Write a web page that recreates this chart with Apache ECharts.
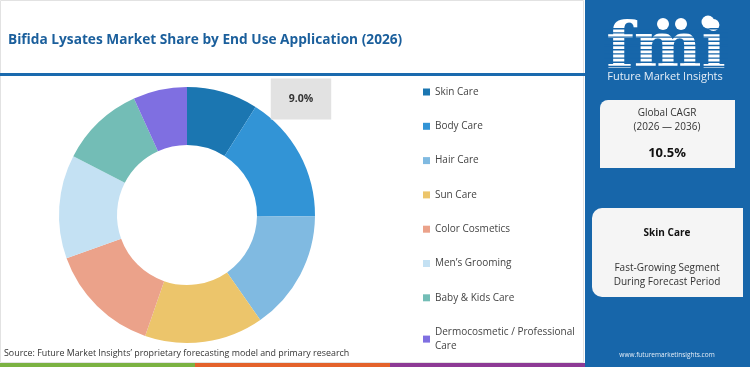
<!DOCTYPE html>
<html>
<head>
<meta charset="utf-8">
<script src="https://cdn.jsdelivr.net/npm/echarts@6/dist/echarts.min.js"></script>
<style>
html,body{margin:0;padding:0;background:#fff;}
#c{width:750px;height:367px;}
</style>
</head>
<body>
<div id="c"></div>
<script>
var categories = ["Skin Care","Body Care","Hair Care","Sun Care","Color Cosmetics","Men\u2019s Grooming","Baby & Kids Care","Dermocosmetic / Professional Care"];
var shares = [9.0, 16.2, 15.1, 15.0, 14.2, 13.1, 10.6, 6.8];
var colors = ["#1b76b1","#3294d6","#80bae1","#ecc56b","#eba28a","#c4e1f3","#73bdb6","#7f6fe1"];
var titleText = "Bifida Lysates Market Share by End Use Application (2026)";
var sourceText = "Source: Future Market Insights\u2019 proprietary forecasting model and primary research";
var cagrLabel = ["Global CAGR","(2026 \u2014 2036)"];
var cagrValue = "10.5%";
var segName = "Skin Care";
var segDesc = ["Fast-Growing Segment","During Forecast Period"];

var FONT = "'Open Sans', 'Noto Sans', sans-serif";
var chart = echarts.init(document.getElementById('c'), null, {renderer:'canvas'});

var pieData = categories.map(function(n,i){
  return {name:n, value:shares[i], itemStyle:{color:colors[i]}, label:{show:i===0}};
});

var stripes = [];
for (var y = 28; y < 70; y += 4.2) {
  stripes.push({type:'rect', shape:{x:604,y:y,width:124,height:1.4}, style:{fill:'#1766aa'}, z:12});
}

var graphics = [
  {type:'rect', shape:{x:0.5,y:0.5,width:583,height:362}, style:{fill:'#fff', stroke:'#e2e2e2', lineWidth:1}, z:0},
  {type:'rect', shape:{x:0,y:73,width:585,height:3}, style:{fill:'#1a6aae'}, z:1},
  {type:'rect', shape:{x:585,y:0,width:165,height:367}, style:{fill:'#1766aa'}, z:1},
  {type:'rect', shape:{x:0,y:363,width:195,height:4}, style:{fill:'#7bb242'}, z:2},
  {type:'rect', shape:{x:195,y:363,width:195,height:4}, style:{fill:'#e4622b'}, z:2},
  {type:'rect', shape:{x:390,y:363,width:195,height:4}, style:{fill:'#8d3a95'}, z:2},
  {type:'text', x:8, y:40, style:{text:titleText, fill:'#1b5f9c', font:"bold 13.7px "+FONT, textVerticalAlign:'middle'}, z:5},
  {type:'text', x:4, y:353, style:{text:sourceText, fill:'#333', font:"8.9px "+FONT, textVerticalAlign:'middle'}, z:5},
  // logo
  {type:'text', x:666, y:50, style:{text:'fmi', fill:'#ffffff', font:"bold 64px 'DejaVu Serif', serif", textAlign:'center', textVerticalAlign:'middle'}, z:10},
  {type:'circle', shape:{cx:663,cy:24,r:6}, style:{fill:'#ffffff'}, z:13},
  {type:'circle', shape:{cx:681,cy:24,r:6}, style:{fill:'#ffffff'}, z:13},
  {type:'circle', shape:{cx:708,cy:22,r:6.5}, style:{fill:'#ffffff'}, z:13},
  {type:'text', x:665, y:77, style:{text:'Future Market Insights', fill:'#e6eef7', font:"11px "+FONT, textAlign:'center', textVerticalAlign:'middle'}, z:10},
  // CAGR box
  {type:'rect', shape:{x:600,y:100,width:135,height:68,r:[8,0,0,0]}, style:{fill:'#f5f5f5'}, z:10},
  {type:'text', x:667, y:113, style:{text:cagrLabel[0], fill:'#333', font:"10px "+FONT, textAlign:'center', textVerticalAlign:'middle'}, z:11},
  {type:'text', x:667, y:127, style:{text:cagrLabel[1], fill:'#333', font:"10px "+FONT, textAlign:'center', textVerticalAlign:'middle'}, z:11},
  {type:'text', x:667, y:153, style:{text:cagrValue, fill:'#111', font:"bold 13px "+FONT, textAlign:'center', textVerticalAlign:'middle'}, z:11},
  // segment box
  {type:'rect', shape:{x:592,y:208,width:151,height:89,r:[10,0,0,10]}, style:{fill:'#f5f5f5'}, z:10},
  {type:'text', x:667, y:233, style:{text:segName, fill:'#111', font:"bold 10px "+FONT, textAlign:'center', textVerticalAlign:'middle'}, z:11},
  {type:'text', x:667, y:268, style:{text:segDesc[0], fill:'#333', font:"10px "+FONT, textAlign:'center', textVerticalAlign:'middle'}, z:11},
  {type:'text', x:667, y:282, style:{text:segDesc[1], fill:'#333', font:"10px "+FONT, textAlign:'center', textVerticalAlign:'middle'}, z:11},
  {type:'text', x:667, y:355, style:{text:'www.futuremarketinsights.com', fill:'#e6eef7', font:"6.5px "+FONT, textAlign:'center', textVerticalAlign:'middle'}, z:11}
].concat(stripes);

chart.setOption({
  animation:false,
  backgroundColor:'#ffffff',
  graphic:{elements:graphics},
  legend:{
    orient:'vertical',
    left:418, top:80, height:280, width:160,
    itemWidth:7, itemHeight:7, icon:'rect',
    itemGap:20.3,
    data:categories,
    textStyle:{fontFamily:FONT, fontSize:10, color:'#444', lineHeight:14, width:145, overflow:'break'}
  },
  series:[{
    type:'pie',
    center:[187,215],
    radius:[70,128],
    startAngle:90,
    clockwise:true,
    avoidLabelOverlap:false,
    data:pieData,
    itemStyle:{borderWidth:0},
    labelLine:{show:false},
    label:{
      position:'outside',
      formatter:function(p){return p.value.toFixed(1)+'%';},
      backgroundColor:'#e2e2e2',
      padding:[15,18],
      color:'#333',
      fontFamily:FONT,
      fontWeight:'bold',
      fontSize:10.5
    },
    labelLayout:function(p){
      return {x:301, y:99, align:'center', verticalAlign:'middle'};
    },
    emphasis:{disabled:true}
  }]
});
</script>
</body>
</html>
